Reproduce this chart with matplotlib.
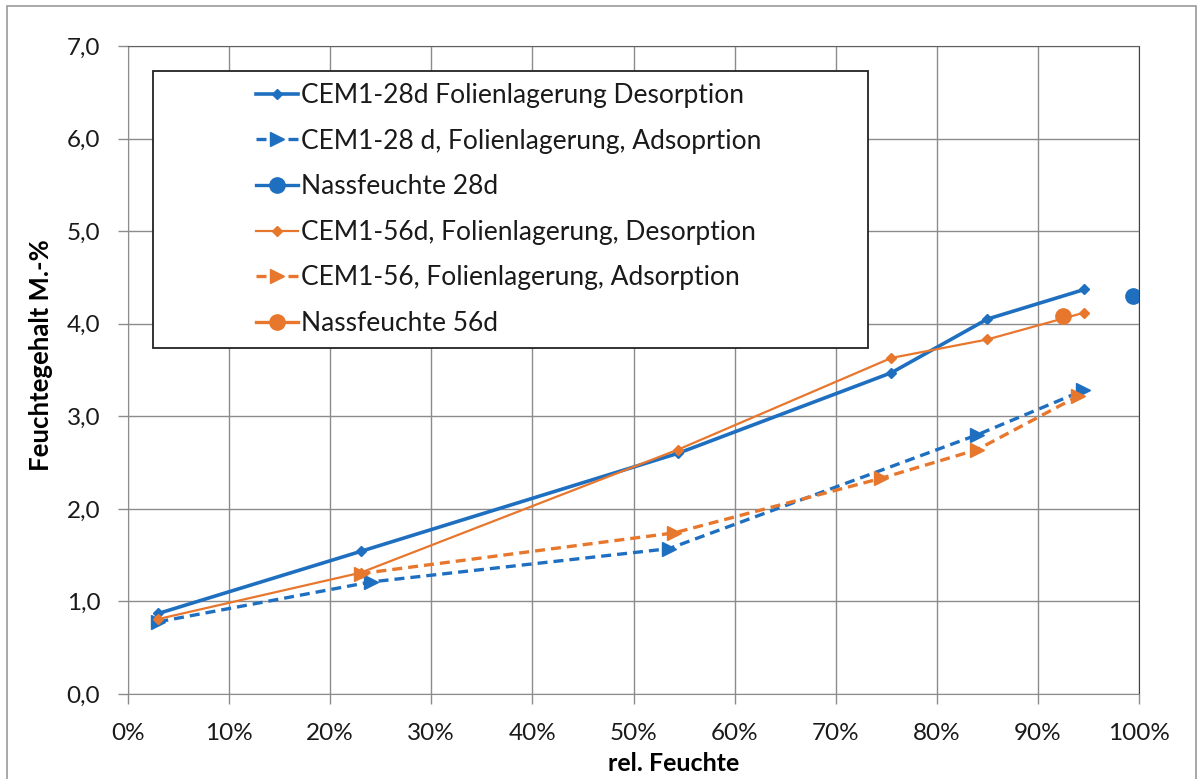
import matplotlib.pyplot as plt
from matplotlib.patches import Rectangle
from matplotlib.ticker import FuncFormatter, MultipleLocator

plt.rcParams['font.family'] = ['Lato', 'DejaVu Sans']

# data (rel. humidity in %, moisture content in M.-%)
rh_des = [3, 23, 54.4, 75.5, 85, 94.6]
des_28 = [0.87, 1.54, 2.60, 3.47, 4.05, 4.37]
des_56 = [0.81, 1.31, 2.64, 3.63, 3.83, 4.12]

rh_ads_28 = [3, 24, 53.5, 84, 94.5]
ads_28 = [0.78, 1.21, 1.57, 2.80, 3.28]
rh_ads_56 = [23, 54, 74.5, 84, 94]
ads_56 = [1.30, 1.74, 2.33, 2.64, 3.22]

nass_28_x, nass_28_y = [99.4], [4.30]
nass_56_x, nass_56_y = [92.5], [4.08]

labels = [
    'CEM1-28d Folienlagerung Desorption',
    'CEM1-28 d, Folienlagerung, Adsoprtion',
    'Nassfeuchte 28d',
    'CEM1-56d, Folienlagerung, Desorption',
    'CEM1-56, Folienlagerung, Adsorption',
    'Nassfeuchte 56d',
]

blue = '#1F6FC0'
orange = '#E8772E'

W, H = 1203, 779
fig = plt.figure(figsize=(W / 100, H / 100), dpi=100)
ax = fig.add_axes([128 / W, 85 / H, 1011 / W, 648 / H])

ax.plot(rh_des, des_28, color=blue, lw=2.6, marker='D', ms=5, label=labels[0])
ax.plot(rh_ads_28, ads_28, color=blue, lw=2.4, ls=(0, (3, 1.8)), marker='>', ms=10,
        label=labels[1])
ax.plot(nass_28_x, nass_28_y, color=blue, lw=2.4, marker='o', ms=11, label=labels[2])
ax.plot(rh_des, des_56, color=orange, lw=1.6, marker='D', ms=5, label=labels[3])
ax.plot(rh_ads_56, ads_56, color=orange, lw=2.4, ls=(0, (3, 1.8)), marker='>', ms=10,
        label=labels[4])
ax.plot(nass_56_x, nass_56_y, color=orange, lw=2.4, marker='o', ms=11, label=labels[5])

ax.set_xlim(0, 100)
ax.set_ylim(0, 7)
ax.xaxis.set_major_locator(MultipleLocator(10))
ax.yaxis.set_major_locator(MultipleLocator(1))
ax.xaxis.set_major_formatter(FuncFormatter(lambda v, p: f'{v:.0f}%'))
ax.yaxis.set_major_formatter(FuncFormatter(lambda v, p: f'{v:.1f}'.replace('.', ',')))
ax.grid(True, color='#8c8c8c', lw=1)
ax.set_axisbelow(True)
for s in ax.spines.values():
    s.set_color('#8c8c8c')
ax.spines['right'].set_color('#404040')
ax.spines['top'].set_color('#606060')
ax.tick_params(axis='both', colors='#8c8c8c', labelcolor='#1a1a1a', labelsize=17.5,
               length=7, width=1)
ax.tick_params(axis='x', pad=14)
ax.tick_params(axis='y', pad=13)

ax.set_xlabel('rel. Feuchte', fontsize=18, fontweight='bold')
ax.xaxis.set_label_coords(0.54, -0.09)
ax.set_ylabel('Feuchtegehalt M.-%', fontsize=18.5, fontweight='bold')
ax.yaxis.set_label_coords(-0.074, 0.523)

# legend box (Excel style: fixed frame, entries centred inside)
bx0, by0 = (153 - 128) / 1011, (694 - 348) / 648
bw, bh = (868 - 153) / 1011, (348 - 71) / 648
ax.add_patch(Rectangle((bx0, by0), bw, bh, transform=ax.transAxes,
                       facecolor='white', edgecolor='#222222', lw=1.3, zorder=4))
leg = ax.legend(loc='center', bbox_to_anchor=(bx0 + bw / 2 - 0.002, by0 + bh / 2),
                fontsize=19, frameon=False, handlelength=1.6, handletextpad=0.12,
                labelspacing=0.78, borderaxespad=0)
leg.set_zorder(5)
leg._legend_box.align = 'left'
for t in leg.get_texts():
    t.set_color('#1a1a1a')

# outer chart-area border
fig.patches.append(Rectangle((7 / W, -0.01), 1189 / W, 1.01 - 6 / H,
                             transform=fig.transFigure, fill=False,
                             edgecolor='#9a9a9a', lw=1.2))

fig.savefig('out.png', dpi=100, facecolor='white')
